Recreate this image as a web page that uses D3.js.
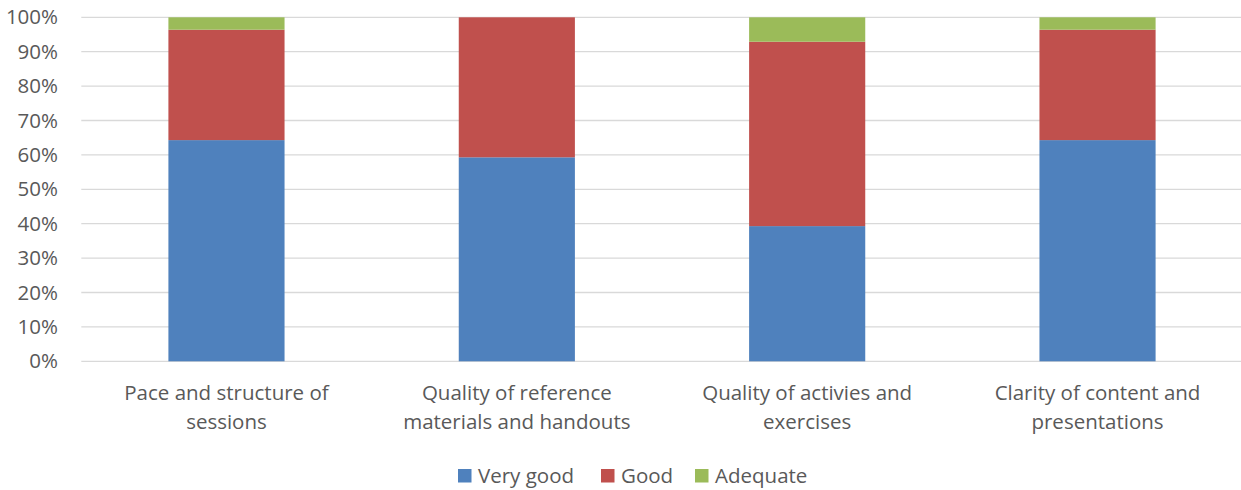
<!DOCTYPE html>
<html><head><meta charset="utf-8">
<script src="https://cdn.jsdelivr.net/npm/d3@7"></script>
<style>body{margin:0;background:#fff;} text{font-family:"Open Sans","Liberation Sans",sans-serif;fill:#595959;}</style>
</head><body>
<svg id="c" width="1241" height="490"></svg>
<script>
const categories = [["Pace and structure of","sessions"],["Quality of reference","materials and handouts"],["Quality of activies and","exercises"],["Clarity of content and","presentations"]];
const seriesNames = ["Very good","Good","Adequate"];
const veryGood = [0.643, 0.593, 0.393, 0.643];
const good = [0.321, 0.407, 0.536, 0.321];
const adequate = [0.036, 0.0, 0.071, 0.036];
const colors = ["#4f81bd","#c0504d","#9bbb59"];
const yTicks = [0,0.1,0.2,0.3,0.4,0.5,0.6,0.7,0.8,0.9,1.0];

(function(){
const svg = d3.select("#c");
const pl = 81.3, pr = 1242.7, pt = 17.3, pb = 361.3;
const x = d3.scaleBand().domain(d3.range(categories.length)).range([pl,pr]).paddingInner(0.6).paddingOuter(0.3);
const y = d3.scaleLinear().domain([0,1]).range([pb,pt]);

svg.append("g").selectAll("line").data(yTicks).join("line")
  .attr("x1",pl).attr("x2",pr).attr("y1",d=>y(d)).attr("y2",d=>y(d))
  .attr("stroke","#d9d9d9").attr("stroke-width",1.3);
svg.append("g").selectAll("text").data(yTicks).join("text")
  .attr("x",58).attr("y",d=>y(d)).attr("dy","0.35em").attr("text-anchor","end")
  .attr("font-size",20.5).text(d=>d3.format(".0%")(d));

const rows = categories.map((c,i)=>({i, "Very good":veryGood[i], "Good":good[i], "Adequate":adequate[i]}));
const stack = d3.stack().keys(seriesNames)(rows);
svg.append("g").selectAll("g").data(stack).join("g").attr("fill",(d,i)=>colors[i])
  .selectAll("rect").data(d=>d).join("rect")
  .attr("x",d=>x(d.data.i)).attr("width",x.bandwidth())
  .attr("y",d=>y(d[1])).attr("height",d=>Math.max(0,y(d[0])-y(d[1])));

const cat = svg.append("g").selectAll("text").data(categories).join("text")
  .attr("text-anchor","middle").attr("font-size",20.5);
cat.each(function(d,i){
  const t=d3.select(this);
  d.forEach((line,k)=>t.append("tspan").attr("x",x(i)+x.bandwidth()/2).attr("y",400+k*28.5).text(line));
});

const legX = [458, 601, 695];
const lg = svg.append("g").selectAll("g").data(seriesNames).join("g")
  .attr("transform",(d,i)=>`translate(${legX[i]},469)`);
lg.append("rect").attr("width",13.5).attr("height",13.5).attr("fill",(d,i)=>colors[i]);
lg.append("text").attr("x",20).attr("y",7).attr("dy","0.36em").attr("font-size",20.5).text(d=>d);
})();
</script>
</body></html>
